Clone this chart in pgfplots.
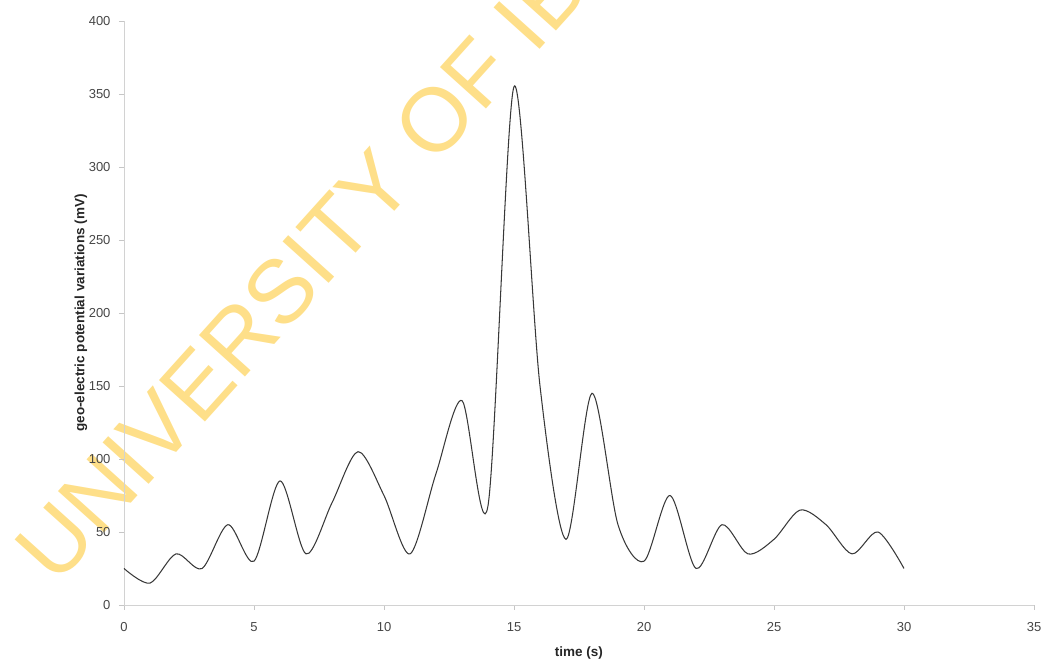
\documentclass[border=0pt]{standalone}
\usepackage{fontspec}
\setmainfont{Liberation Sans}
\usepackage{pgfplots}
\pgfplotsset{compat=1.18}
\definecolor{wm}{RGB}{254,223,137}
\definecolor{tk}{RGB}{70,70,70}
\begin{document}
\begin{tikzpicture}
\useasboundingbox (-124pt,-58pt) rectangle (923pt,605pt);
\begin{scope}
\clip (-124pt,-58pt) rectangle (923pt,605pt);
\node[text=wm, font=\fontsize{90}{90}\selectfont, rotate=48, anchor=base west, inner sep=0pt] at (-68pt,18pt) {UNIVERSITY OF IBADAN};
\end{scope}
\begin{axis}[
  scale only axis, width=910pt, height=584pt,
  xmin=0, xmax=35, ymin=0, ymax=400,
  xtick={0,5,...,35}, ytick={0,50,...,400},
  axis x line*=bottom, axis y line*=left,
  axis line style={draw=gray!35, line width=0.8pt, -},
  tick style={draw=gray!45, line width=0.8pt},
  tick align=outside, major tick length=5pt,
  /pgf/number format/assume math mode=true,
  tick label style={font=\fontsize{13}{15}\selectfont, text=tk},
  xticklabel style={yshift=-9pt},
  yticklabel style={xshift=-5pt},
  xlabel={time (s)},
  ylabel={geo-electric potential variations (mV)},
  label style={font=\fontsize{13.5}{16}\selectfont\bfseries, text=black!85},
  xlabel style={at={(axis description cs:0.5,0)}, anchor=center, yshift=-48pt},
  ylabel style={at={(axis description cs:0,0.5)}, anchor=center, yshift=43pt},
  clip=false,
]
\addplot[color=black!78, line width=1.05pt, smooth, tension=0.5] coordinates {
(0,25) (1,15) (2,35) (3,25) (4,55) (5,30) (6,85) (7,35) (8,70) (9,105)
(10,75) (11,35) (12,90) (13,140) (14,68) (15,355) (16,150) (17,45) (18,145) (19,55)
(20,30) (21,75) (22,25) (23,55) (24,35) (25,45) (26,65) (27,55) (28,35) (29,50) (30,25)
};
\end{axis}
\end{tikzpicture}
\end{document}
